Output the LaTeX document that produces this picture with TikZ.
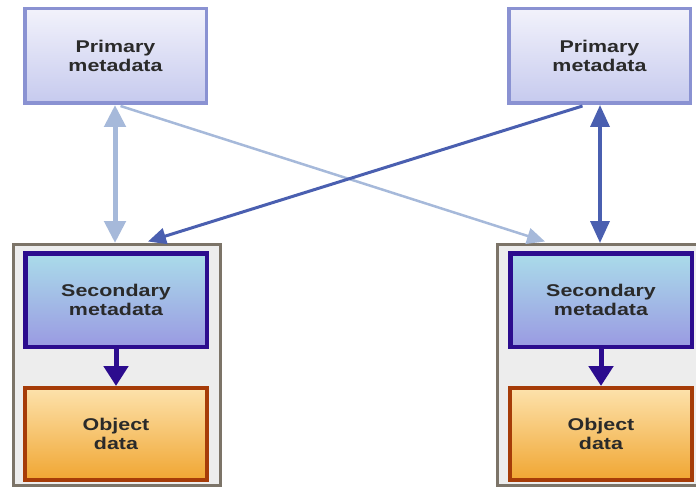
\documentclass[tikz,border=0pt]{standalone}
\usepackage{fontspec}
\setmainfont{Liberation Sans}[FakeStretch=1.26]
\usetikzlibrary{arrows.meta,calc}

\definecolor{primFill1}{HTML}{F2F2FB}
\definecolor{primFill2}{HTML}{C6CAEE}
\definecolor{primEdge}{HTML}{8A92D2}
\definecolor{secFill1}{HTML}{AADCEA}
\definecolor{secFill2}{HTML}{9A9AE2}
\definecolor{secEdge}{HTML}{2C0C8E}
\definecolor{objFill1}{HTML}{FDE2AC}
\definecolor{objFill2}{HTML}{F0A632}
\definecolor{objEdge}{HTML}{A63C08}
\definecolor{boxFill}{HTML}{EDEDED}
\definecolor{boxEdge}{HTML}{7C7468}
\definecolor{lightLink}{HTML}{A6B9DA}
\definecolor{darkLink}{HTML}{4A5FB0}
\definecolor{textCol}{HTML}{2A2A2A}

\tikzset{
  label text/.style={font=\bfseries\fontsize{17}{19}\selectfont, text=textCol, align=center},
  primbox/.style={label text, draw=primEdge, line width=3.5pt, top color=primFill1, bottom color=primFill2,
    minimum width=181.5pt, minimum height=94.5pt, inner sep=0pt},
  secbox/.style={label text, draw=secEdge, line width=4.5pt, top color=secFill1, bottom color=secFill2,
    minimum width=181.5pt, minimum height=93.5pt, inner sep=0pt},
  objbox/.style={label text, draw=objEdge, line width=4pt, top color=objFill1, bottom color=objFill2,
    minimum width=182pt, minimum height=92pt, inner sep=0pt},
  holder/.style={draw=boxEdge, fill=boxFill, line width=3pt, minimum width=207pt, minimum height=241pt, inner sep=0pt},
  lightlink/.style={draw=lightLink, line width=2.5pt},
  darklink/.style={draw=darkLink, line width=3pt},
  twoway light/.style={draw=lightLink, line width=5pt, {Triangle[width=21pt,length=22pt]}-{Triangle[width=21pt,length=22pt]}},
  twoway dark/.style={draw=darkLink, line width=3.5pt, {Triangle[width=19pt,length=22pt]}-{Triangle[width=19pt,length=22pt]}},
  down/.style={draw=secEdge, line width=5pt, -{Triangle[width=24pt,length=20pt]}},
}

\begin{document}
\begin{tikzpicture}[x=1pt, y=-1pt]
  \useasboundingbox (0,0) rectangle (696,492);

  % storage containers (the right one runs past the page edge)
  \node[holder] (boxL) at (117,365) {};
  \node[holder, minimum width=215pt] (boxR) at (605,365) {};

  % primary metadata
  \node[primbox] (primL) at (115.5,56) {Primary\\metadata};
  \node[primbox] (primR) at (599.5,56) {Primary\\metadata};

  % secondary metadata and object data
  \node[secbox] (secL) at (116,300) {Secondary\\metadata};
  \node[objbox] (objL) at (116,434) {Object\\data};
  \node[secbox] (secR) at (601,300) {Secondary\\metadata};
  \node[objbox] (objR) at (601,434) {Object\\data};

  % attachment points for the crossing links
  \coordinate (lightStart) at ([xshift=5pt,yshift=-1pt]primL.south);
  \coordinate (lightEnd) at ([xshift=-60pt,yshift=1.5pt]boxR.north);
  \coordinate (darkStart) at ([xshift=-17pt,yshift=-1pt]primR.south);
  \coordinate (darkEnd) at ([xshift=31pt,yshift=1.5pt]boxL.north);

  % crossing links
  \draw[lightlink, -{Triangle[width=16pt,length=18pt]}] (lightStart) -- (lightEnd);
  \draw[darklink, -{Triangle[width=16pt,length=18pt]}] (darkStart) -- (darkEnd);

  % vertical two-way links
  \draw[twoway light] ([xshift=-0.5pt]primL.south) -- ([xshift=-2pt]boxL.north);
  \draw[twoway dark] ([xshift=0.5pt]primR.south) -- ([xshift=-5pt]boxR.north);

  % secondary to object
  \draw[down] (secL.south) -- (objL.north);
  \draw[down] (secR.south) -- (objR.north);
\end{tikzpicture}
\end{document}
